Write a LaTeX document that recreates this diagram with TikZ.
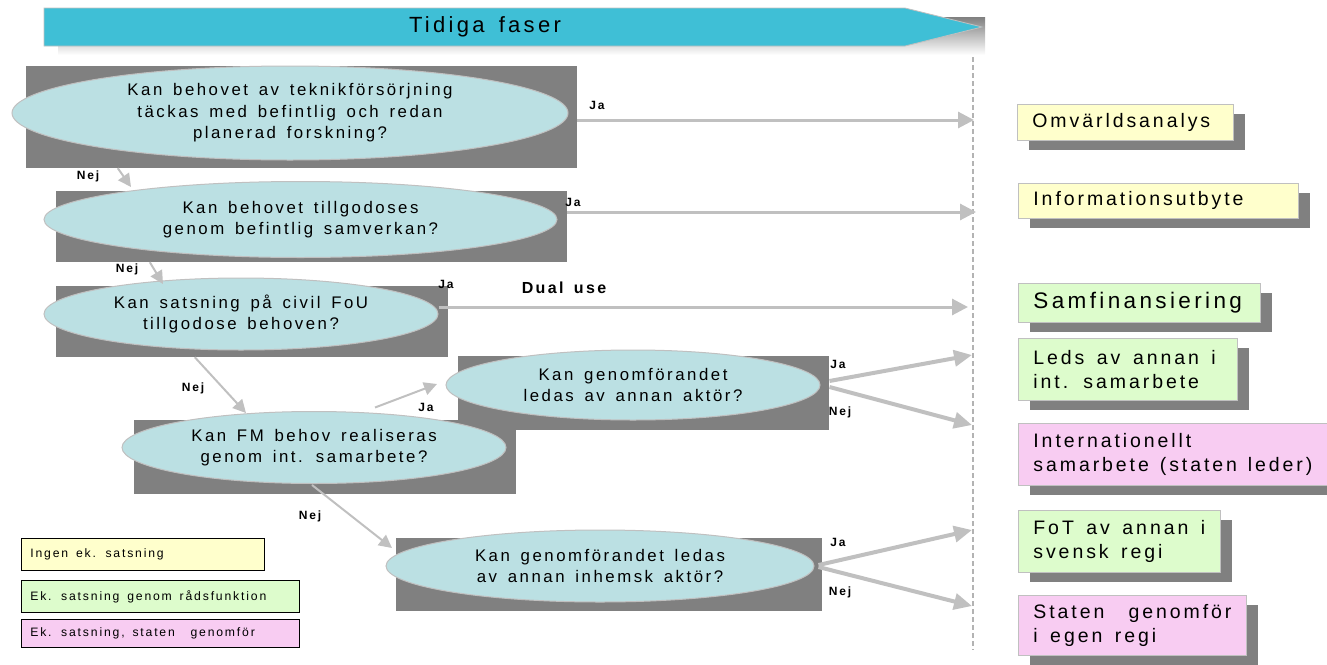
\documentclass[tikz,border=0pt]{standalone}
\usepackage{fontspec}
\setmainfont[LetterSpace=15,WordSpace=1.5]{Liberation Sans}
\usetikzlibrary{shapes.geometric,arrows.meta,calc,shadows}
\definecolor{banner}{HTML}{3FBFD6}
\definecolor{ellfill}{HTML}{BBE0E3}
\definecolor{shade}{HTML}{808080}
\definecolor{arrgray}{HTML}{C0C0C0}
\definecolor{yel}{HTML}{FFFFCC}
\definecolor{grn}{HTML}{DDFCCC}
\definecolor{pnk}{HTML}{F8CCF2}
\begin{document}
\begin{tikzpicture}[x=1pt,y=-1pt,
  shadowrect/.style={rectangle,fill=shade,draw=none,inner sep=0pt},
  ell/.style={ellipse,fill=ellfill,draw=arrgray,line width=1pt,inner sep=0pt,align=center,
    font=\fontsize{16.8}{21.5}\selectfont},
  arr/.style={draw=arrgray,line width=3pt,-{Triangle[length=16pt,width=16pt]}},
  arrs/.style={draw=arrgray,line width=2pt,-{Triangle[length=13pt,width=13pt]}},
  arrf/.style={draw=arrgray,line width=4pt,-{Triangle[length=18pt,width=16pt]}},
  lbl/.style={font=\fontsize{12}{14}\selectfont\bfseries,inner sep=0pt},
  rbox/.style={rectangle,draw=arrgray,line width=0.8pt,anchor=north west,inner xsep=15pt,inner ysep=0pt,
    align=left,font=\fontsize{19.5}{24}\selectfont,
    execute at begin node={\spaceskip=0pt\xspaceskip=0pt},
    drop shadow={shadow xshift=12pt,shadow yshift=-10pt,fill=shade,opacity=1}},
  lbox/.style={rectangle,draw=black,line width=0.7pt,anchor=north west,inner xsep=9pt,inner ysep=0pt,
    align=left,font=\fontsize{12.2}{14}\selectfont,
    execute at begin node={\spaceskip=0pt\xspaceskip=0pt}}
]
\useasboundingbox (0,0) rectangle (1327,664);

% banner
\fill[shade] (58,17) rectangle (985,55);
\filldraw[fill=banner,draw=arrgray,line width=0.8pt] (44,8) -- (905,8) -- (982,27) -- (905,46) -- (44,46) -- cycle;
\node[font=\fontsize{22}{26}\selectfont,inner sep=0pt] (title) at (485,27) {Tidiga faser};

% dashed divider
\draw[draw=arrgray!80!gray,line width=1.2pt,dash pattern=on 5pt off 3pt] (973,57) -- (973,650);

% question 1
\node[shadowrect,minimum width=551pt,minimum height=102pt] (r1) at (301.5,117) {};
\node[ell,minimum width=556pt,minimum height=94pt] (e1) at (290,113) {Kan behovet av teknikförsörjning\\täckas med befintlig och redan\\planerad forskning?};
% question 2
\node[shadowrect,minimum width=511pt,minimum height=71pt] (r2) at (311.5,226.5) {};
\node[ell,minimum width=513pt,minimum height=76pt] (e2) at (300.5,219.5) {Kan behovet tillgodoses\\genom befintlig samverkan?};
% question 3
\node[shadowrect,minimum width=392pt,minimum height=71pt] (r3) at (252,321.5) {};
\node[ell,minimum width=394pt,minimum height=72pt] (e3) at (241,314) {Kan satsning på civil FoU\\tillgodose behoven?};
% question 5 (int. ledas av annan)
\node[shadowrect,minimum width=371pt,minimum height=74pt] (r5) at (643.5,393) {};
\node[ell,minimum width=374pt,minimum height=70pt] (e5) at (633,385) {Kan genomförandet\\ledas av annan aktör?};
% question 4
\node[shadowrect,minimum width=382pt,minimum height=74pt] (r4) at (325,457) {};
\node[ell,minimum width=384pt,minimum height=72pt] (e4) at (314,447.5) {Kan FM behov realiseras\\genom int. samarbete?};
% question 6
\node[shadowrect,minimum width=426pt,minimum height=73pt] (r6) at (609,574.5) {};
\node[ell,minimum width=428pt,minimum height=72pt] (e6) at (600,566) {Kan genomförandet ledas\\av annan inhemsk aktör?};

% outcome boxes
\node[rbox,fill=yel,text width=186pt,minimum height=36pt] (om) at (1017,104) {Omvärldsanalys};
\node[rbox,fill=yel,text width=250pt,minimum height=35pt] (info) at (1018,183) {Informationsutbyte};
\node[rbox,fill=grn,text width=212pt,minimum height=39pt,font=\fontsize{22.5}{26}\selectfont] (samf) at (1018,283) {Samfinansiering};
\node[rbox,fill=grn,text width=189pt,minimum height=62pt] (leds) at (1018,338) {Leds av annan i\\int. samarbete};
\node[rbox,fill=pnk,text width=279pt,minimum height=62pt] (intl) at (1018,423) {Internationellt\\samarbete (staten leder)};
\node[rbox,fill=grn,text width=172pt,minimum height=62pt] (fot) at (1018,510) {FoT av annan i\\svensk regi};
\node[rbox,fill=pnk,text width=198pt,minimum height=60pt] (stat) at (1018,595) {Staten\ \ genomför\\i egen regi};

% legend
\node[lbox,fill=yel,text width=225pt,minimum height=32pt] (lg1) at (21,538) {Ingen ek. satsning};
\node[lbox,fill=grn,text width=260pt,minimum height=32pt] (lg2) at (21,580) {Ek. satsning genom rådsfunktion};
\node[lbox,fill=pnk,text width=260pt,minimum height=28pt] (lg3) at (21,619) {Ek. satsning, staten\ \ genomför};

% arrow targets
\coordinate (t1) at (974,120);
\coordinate (t2) at (976,212);
\coordinate (t3) at (968,307);
\coordinate (t5a) at (972,355);
\coordinate (t5b) at (972,425);
\coordinate (t6a) at (972,530);
\coordinate (t6b) at (972,606);
\coordinate (n1) at (131,187);
\coordinate (n2) at (163,284);
\coordinate (n3) at (246,413);
\coordinate (j4) at (437,384);
\coordinate (n4) at (392,548);

% connectors
\draw[arr] (r1.east |- t1) -- (t1);
\draw[arr] (r2.east |- t2) -- (t2);
\draw[arr] (e3.east |- t3) -- (t3);
\draw[arrs] ($(r1.south west)+(92,0)$) -- (n1);
\draw[arrs] ($(r2.south west)+(94,0)$) -- (n2);
\draw[arrs] ($(r3.south west)+(139,0)$) -- (n3);
\draw[arrs] ($(e4.north)+(61,-3.5)$) -- (j4);
\draw[arrs] ($(e4.south)+(-2,1)$) -- (n4);
\draw[arrf] ($(e5.east)+(9,-4)$) -- (t5a);
\draw[arrf] ($(e5.east)+(9,2)$) -- (t5b);
\draw[arrf] ($(e6.east)+(4,-1)$) -- (t6a);
\draw[arrf] ($(e6.east)+(4,1)$) -- (t6b);

% labels
\node[lbl] (lja1) at (597,105) {Ja};
\node[lbl] (lnej1) at (88,176) {Nej};
\node[lbl] (lja2) at (573,202) {Ja};
\node[lbl] (lnej2) at (127,269) {Nej};
\node[lbl] (lja3) at (446,284) {Ja};
\node[font=\fontsize{16}{18}\selectfont\bfseries,inner sep=0pt] (dual) at (564,288) {Dual use};
\node[lbl] (lnej3) at (193,388) {Nej};
\node[lbl] (lja4) at (426,407) {Ja};
\node[lbl] (lnej4) at (310,516) {Nej};
\node[lbl] (lja5) at (838,364) {Ja};
\node[lbl] (lnej5) at (840,412) {Nej};
\node[lbl] (lja6) at (838,542) {Ja};
\node[lbl] (lnej6) at (840,592) {Nej};
\end{tikzpicture}
\end{document}
